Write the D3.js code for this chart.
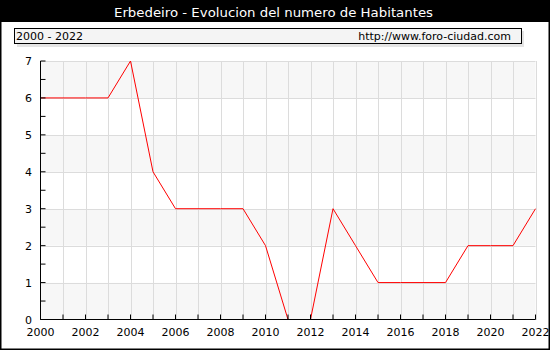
<!DOCTYPE html>
<html>
<head>
<meta charset="utf-8">
<script src="https://cdn.jsdelivr.net/npm/d3@7"></script>
<style>
	body { margin: 0; background: #fff; }
	svg { display: block; font-family: "DejaVu Sans", Verdana, sans-serif; }
</style>
</head>
<body>
<svg id="chart"></svg>
<script>
// data
let years = [2000, 2001, 2002, 2003, 2004, 2005, 2006, 2007, 2008, 2009, 2010, 2011,
	2012, 2013, 2014, 2015, 2016, 2017, 2018, 2019, 2020, 2021, 2022];
let habitantes = [6, 6, 6, 6, 7, 4, 3, 3, 3, 3, 2, 0, 0, 3, 2, 1, 1, 1, 1, 2, 2, 2, 3];
let xTicks = [2000, 2002, 2004, 2006, 2008, 2010, 2012, 2014, 2016, 2018, 2020, 2022];
let yTicks = [0, 1, 2, 3, 4, 5, 6, 7];
let title = "Erbedeiro - Evolucion del numero de Habitantes";
let rangeLabel = "2000 - 2022";
let siteLabel = "http://www.foro-ciudad.com";

let svgWidth = 550, svgHeight = 350;
let svg = d3.select("#chart")
	.attr("width", svgWidth)
	.attr("height", svgHeight);

// outer frame
svg.append("rect")
	.attr("x", 0.5).attr("y", 0.5)
	.attr("width", svgWidth - 1).attr("height", svgHeight - 1)
	.attr("fill", "#fff")
	.attr("stroke", "#000")
	.attr("stroke-width", 2);

// title bar
svg.append("rect")
	.attr("x", 0).attr("y", 0)
	.attr("width", svgWidth).attr("height", 22)
	.attr("fill", "#000");
svg.append("text")
	.attr("x", 273.5).attr("y", 17)
	.attr("text-anchor", "middle")
	.attr("fill", "#fff")
	.attr("font-size", 13)
	.attr("textLength", 319)
	.attr("lengthAdjust", "spacingAndGlyphs")
	.text(title);

// header box with shadow
svg.append("rect")
	.attr("x", 17).attr("y", 31)
	.attr("width", 507).attr("height", 16)
	.attr("fill", "#e4e4e4");
svg.append("rect")
	.attr("x", 14.5).attr("y", 28.5)
	.attr("width", 507).attr("height", 15)
	.attr("fill", "#f4f4f4")
	.attr("stroke", "#000");
svg.append("text")
	.attr("x", 16).attr("y", 40)
	.attr("font-size", 11)
	.text(rangeLabel);
svg.append("text")
	.attr("x", 511).attr("y", 40)
	.attr("text-anchor", "end")
	.attr("font-size", 11)
	.text(siteLabel);

let margin = { top: 61, left: 40, right: 14, bottom: 30 };
let width = svgWidth - margin.left - margin.right;
let height = svgHeight - margin.top - margin.bottom;

let g = svg.append("g")
	.attr("transform", "translate(" + margin.left + "," + margin.top + ")");

let x = d3.scaleLinear()
	.domain([2000, 2022])
	.range([0.5, width - 0.5]);
let y = d3.scaleLinear()
	.domain([0, 7])
	.range([height - 0.5, 0]);

// alternating bands
g.selectAll(".band")
	.data(yTicks.slice(0, -1))
	.enter()
	.append("rect")
	.attr("class", "band")
	.attr("x", 0)
	.attr("y", d => y(d + 1))
	.attr("width", x(2022))
	.attr("height", d => y(d) - y(d + 1))
	.attr("fill", d => d % 2 == 0 ? "#f7f7f7" : "#fff");

// grid
g.selectAll(".vgrid")
	.data(years.slice(1))
	.enter()
	.append("line")
	.attr("x1", d => Math.round(x(d)) + 0.5)
	.attr("x2", d => Math.round(x(d)) + 0.5)
	.attr("y1", 0)
	.attr("y2", height)
	.attr("stroke", "#dcdcdc");
g.selectAll(".hgrid")
	.data(yTicks.slice(1))
	.enter()
	.append("line")
	.attr("x1", 0)
	.attr("x2", x(2022))
	.attr("y1", d => Math.round(y(d)) + 0.5)
	.attr("y2", d => Math.round(y(d)) + 0.5)
	.attr("stroke", "#dcdcdc");

// line
let line = d3.line()
	.x((d, i) => x(years[i]))
	.y(d => y(d));
g.append("path")
	.datum(habitantes)
	.attr("fill", "none")
	.attr("stroke", "#ff0000")
	.attr("stroke-width", 1)
	.attr("d", line);

// x axis, ticks pointing up
let xAxis = g.append("g")
	.attr("transform", "translate(0," + (height - 0.5) + ")")
	.call(d3.axisBottom(x).tickValues(years).tickSize(-5).tickSizeOuter(0).offset(0).tickFormat(""));
xAxis.select(".domain").attr("stroke", "#000");
xAxis.selectAll("text").remove();

g.selectAll(".xlabel")
	.data(xTicks)
	.enter()
	.append("text")
	.attr("x", d => x(d))
	.attr("y", height + 16)
	.attr("text-anchor", "middle")
	.attr("font-size", 11)
	.text(d => d);

// y axis, ticks pointing right
let yMinor = d3.range(0, 7.01, 0.5);
let yAxis = g.append("g")
	.attr("transform", "translate(0.5,0)")
	.call(d3.axisLeft(y).tickValues(yMinor).tickSize(-5).tickSizeOuter(0).offset(0).tickFormat(""));
yAxis.select(".domain").attr("stroke", "#000");

g.selectAll(".ylabel")
	.data(yTicks)
	.enter()
	.append("text")
	.attr("x", -8)
	.attr("y", d => y(d) + 4)
	.attr("text-anchor", "end")
	.attr("font-size", 11)
	.text(d => d);
</script>
</body>
</html>
